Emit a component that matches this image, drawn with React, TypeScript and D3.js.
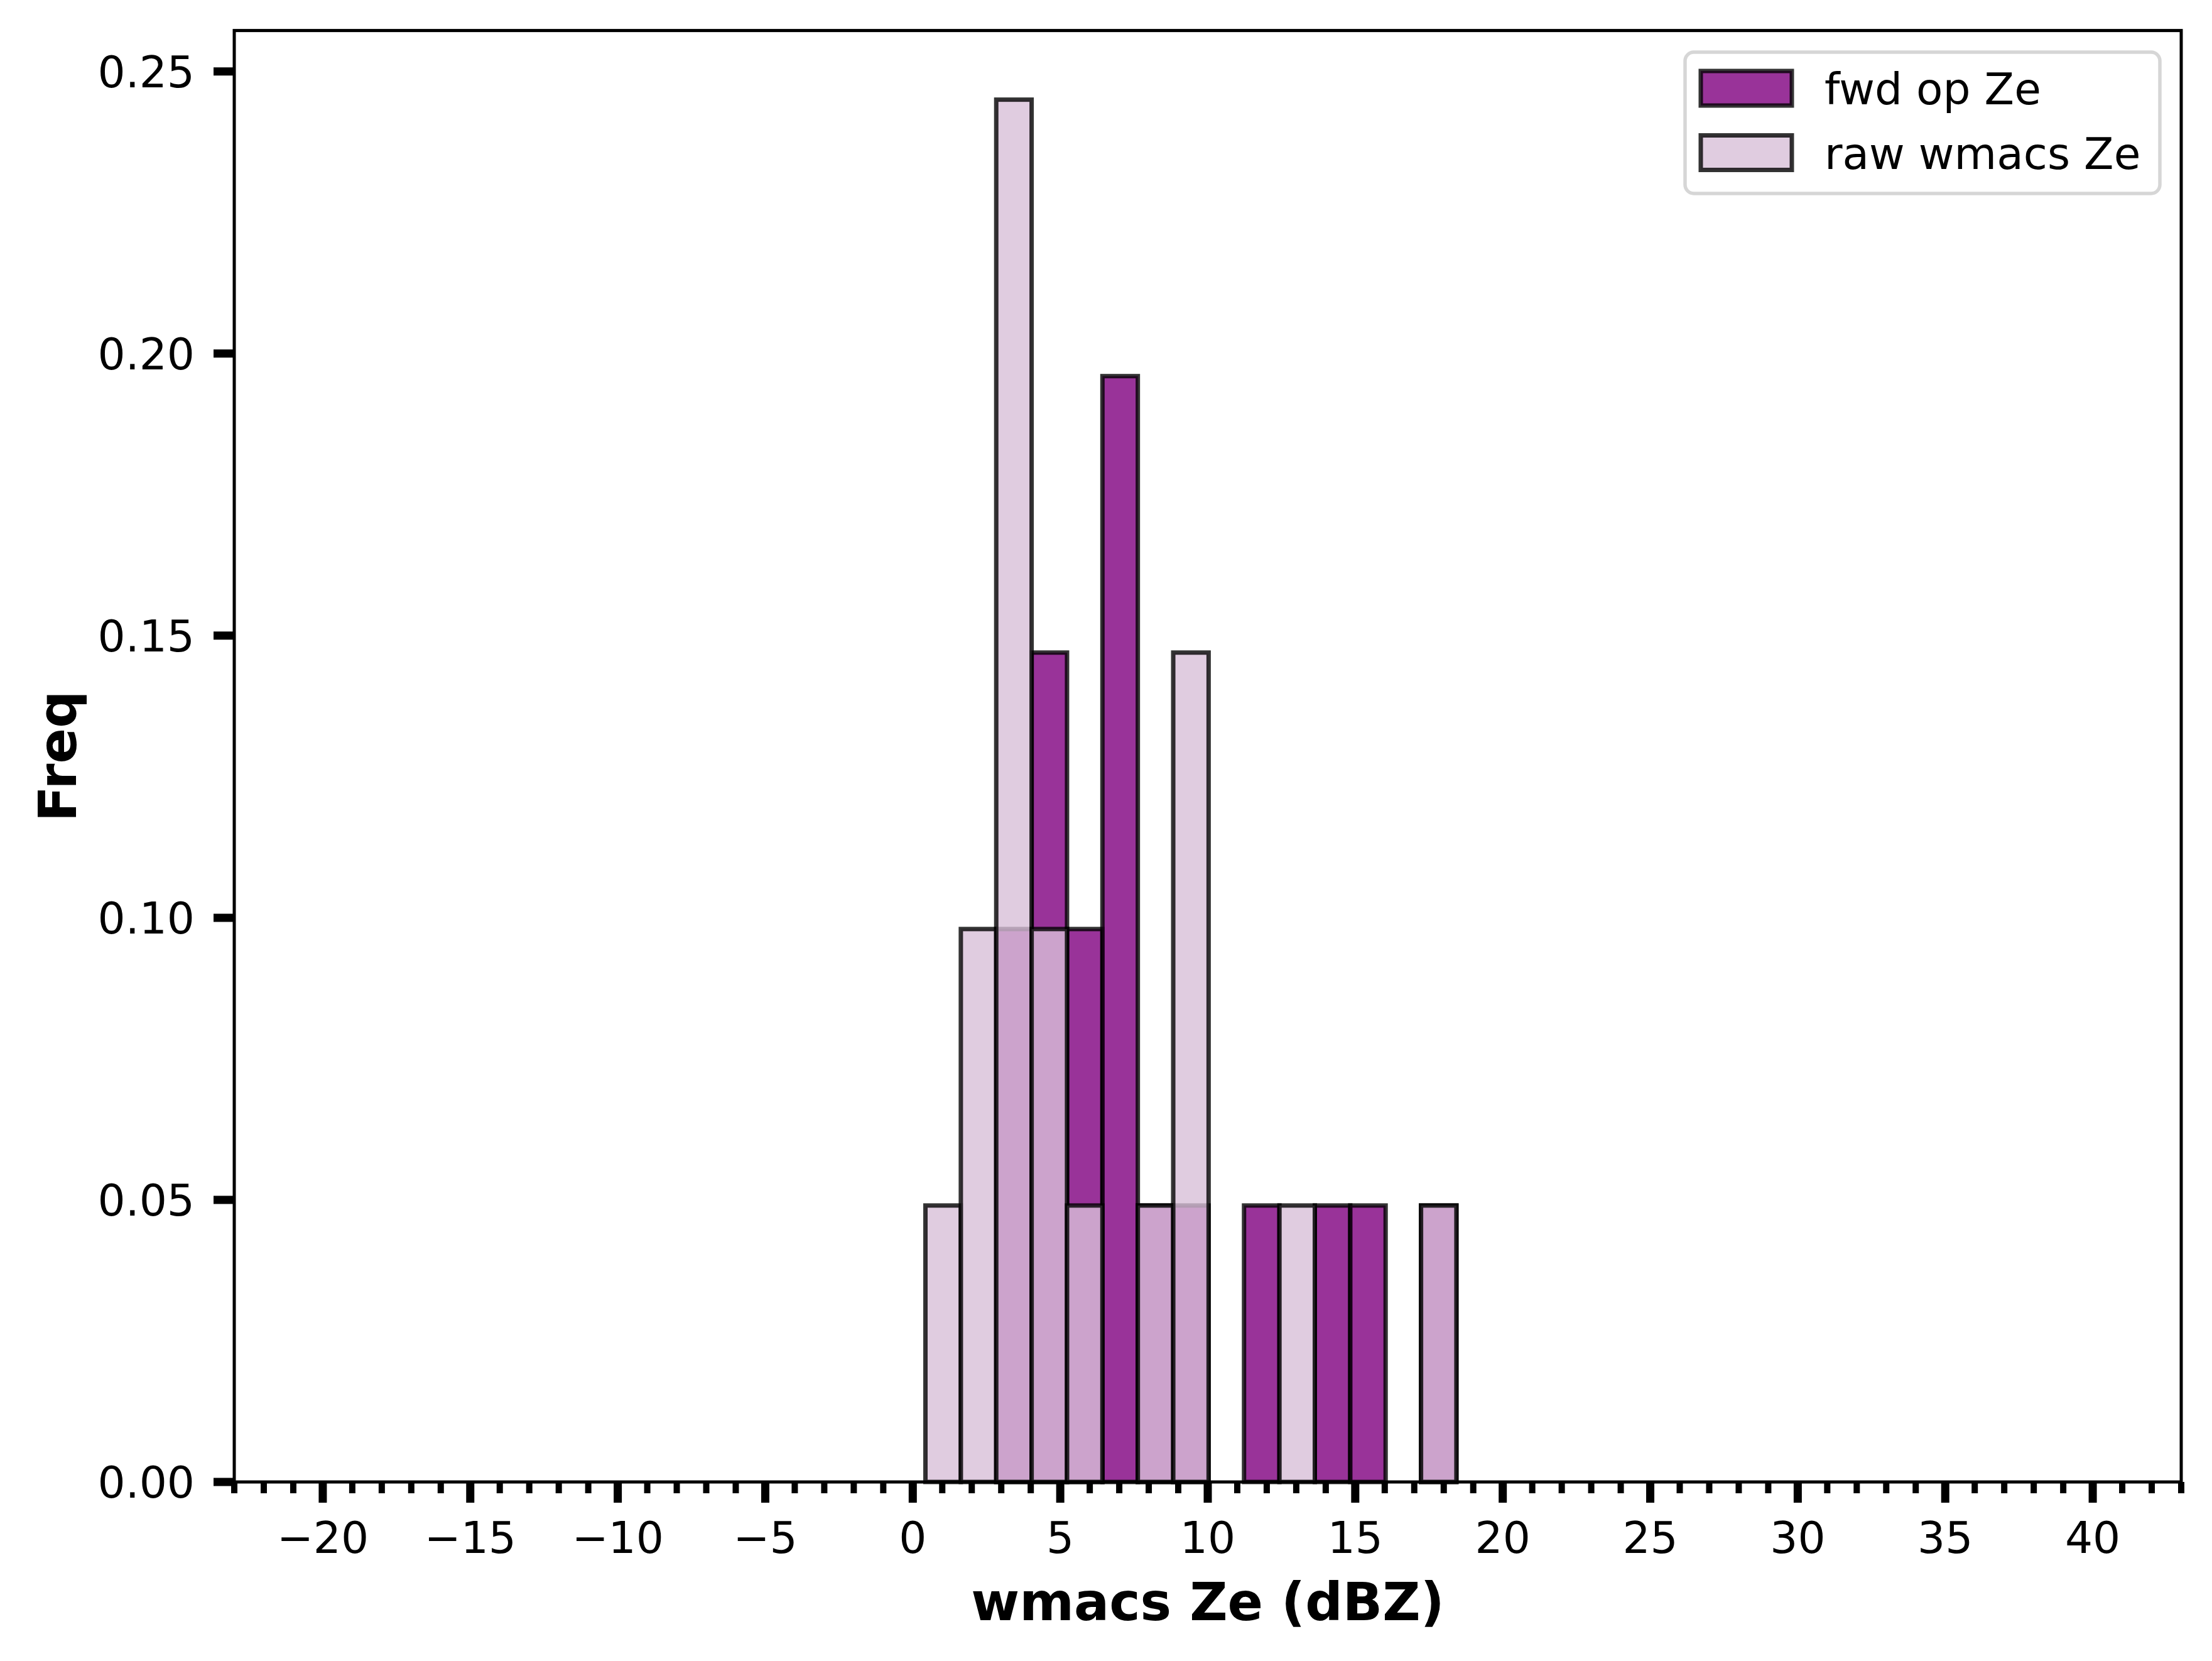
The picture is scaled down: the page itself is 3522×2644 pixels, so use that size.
import React from 'react'
import * as d3 from "d3";

// histogram bin edges (dBZ) and frequencies
const binEdges = [0.43, 1.63, 2.83, 4.03, 5.23, 6.43, 7.63, 8.83, 10.03, 11.23, 12.43, 13.63, 14.83, 16.03, 17.23, 18.43]
const fwdFreq = [0, 0, 0.098, 0.147, 0.098, 0.196, 0.049, 0.049, 0, 0.049, 0, 0.049, 0.049, 0, 0.049]
const rawFreq = [0.049, 0.098, 0.245, 0.098, 0.049, 0, 0.049, 0.147, 0, 0, 0.049, 0, 0, 0, 0.049]

const seriesNames = ["fwd op Ze", "raw wmacs Ze"]
const seriesColors = ["#800080", "#d8bfd8"]

const xTicks = [-20, -15, -10, -5, 0, 5, 10, 15, 20, 25, 30, 35, 40]
const yTicks = [0, 0.05, 0.1, 0.15, 0.2, 0.25]

const xLabel = "wmacs Ze (dBZ)"
const yLabel = "Freq"

function drawChart(svgRef: React.RefObject<SVGSVGElement>) {
  const width = 3522
  const height = 2644
  const margin = { left: 373, right: 3473, top: 48.6, bottom: 2359 }
  const font = "DejaVu Sans"
  const fs = 69.4

  const x = d3.scaleLinear().domain([-23, 43]).range([margin.left, margin.right])
  const y = d3.scaleLinear().domain([0, 0.245 * 1.05]).range([margin.bottom, margin.top])

  const svg = d3.select(svgRef.current)
    .attr("width", width)
    .attr("height", height)
    .attr("viewBox", [0, 0, width, height])
    .style("background", "#fff")
    .attr("font-family", font)

  svg.selectAll("*").remove()

  // bars: fwd first, raw drawn on top
  const series = [fwdFreq, rawFreq]
  series.forEach((vals, si) => {
    const bins = vals.map((v, i) => ({ x0: binEdges[i], x1: binEdges[i + 1], v })).filter(d => d.v > 0)
    svg.append("g")
      .selectAll("rect")
      .data(bins)
      .join("rect")
        .attr("x", d => x(d.x0))
        .attr("width", d => x(d.x1) - x(d.x0))
        .attr("y", d => y(d.v))
        .attr("height", d => y(0) - y(d.v))
        .attr("fill", seriesColors[si])
        .attr("fill-opacity", 0.8)
        .attr("stroke", "#000")
        .attr("stroke-opacity", 0.8)
        .attr("stroke-width", 7)
  })

  // frame
  svg.append("rect")
    .attr("x", margin.left)
    .attr("y", margin.top)
    .attr("width", margin.right - margin.left)
    .attr("height", margin.bottom - margin.top)
    .attr("fill", "none")
    .attr("stroke", "#000")
    .attr("stroke-width", 5)

  // x minor ticks
  const minor = d3.range(-23, 44).filter(v => v % 5 !== 0)
  svg.append("g")
    .selectAll("line")
    .data(minor)
    .join("line")
      .attr("x1", d => x(d))
      .attr("x2", d => x(d))
      .attr("y1", margin.bottom)
      .attr("y2", margin.bottom + 18)
      .attr("stroke", "#000")
      .attr("stroke-width", 10)

  // x major ticks
  const xt = svg.append("g")
    .selectAll("g")
    .data(xTicks)
    .join("g")
      .attr("transform", d => `translate(${x(d)},${margin.bottom})`)
  xt.append("line")
    .attr("y2", 33)
    .attr("stroke", "#000")
    .attr("stroke-width", 13)
  xt.append("text")
    .attr("y", 113)
    .attr("text-anchor", "middle")
    .attr("font-size", fs)
    .text(d => d < 0 ? `\u2212${-d}` : `${d}`)

  // y ticks
  const yt = svg.append("g")
    .selectAll("g")
    .data(yTicks)
    .join("g")
      .attr("transform", d => `translate(${margin.left},${y(d)})`)
  yt.append("line")
    .attr("x2", -33)
    .attr("stroke", "#000")
    .attr("stroke-width", 13)
  yt.append("text")
    .attr("x", -63)
    .attr("dy", "0.36em")
    .attr("text-anchor", "end")
    .attr("font-size", fs)
    .text(d => d3.format(".2f")(d))

  // axis labels
  svg.append("text")
    .attr("x", (margin.left + margin.right) / 2)
    .attr("y", 2579)
    .attr("text-anchor", "middle")
    .attr("font-size", 83.3)
    .attr("font-weight", "bold")
    .text(xLabel)

  svg.append("text")
    .attr("transform", `translate(121,${(margin.top + margin.bottom) / 2}) rotate(-90)`)
    .attr("text-anchor", "middle")
    .attr("font-size", 83.3)
    .attr("font-weight", "bold")
    .text(yLabel)

  // legend
  const lg = svg.append("g")
  lg.append("rect")
    .attr("x", 2683)
    .attr("y", 83)
    .attr("width", 3439 - 2683)
    .attr("height", 308 - 83)
    .attr("rx", 14)
    .attr("fill", "#fff")
    .attr("fill-opacity", 0.8)
    .attr("stroke", "#d6d6d6")
    .attr("stroke-width", 5.5)

  const items = lg.selectAll("g.item")
    .data(seriesNames)
    .join("g")
      .attr("class", "item")
      .attr("transform", (_, i) => `translate(2708,${113 + i * 102.5})`)
  items.append("rect")
    .attr("width", 145)
    .attr("height", 55)
    .attr("fill", (_, i) => seriesColors[i])
    .attr("fill-opacity", 0.8)
    .attr("stroke", "#000")
    .attr("stroke-opacity", 0.8)
    .attr("stroke-width", 7)
  items.append("text")
    .attr("x", 197)
    .attr("y", 53)
    .attr("font-size", fs)
    .text(d => d)

  return svg.node();
}

const App: React.FunctionComponent = () => {
  const svg = React.useRef<SVGSVGElement>(null);

  React.useEffect(() => {
    drawChart(svg);
  }, [svg]);

  return (
    <div id="chart" style={{ position: "absolute", left: 0, top: 0 }}>
      <svg ref={svg} style={{ display: "block" }} />
    </div>
  );
};

export default App
